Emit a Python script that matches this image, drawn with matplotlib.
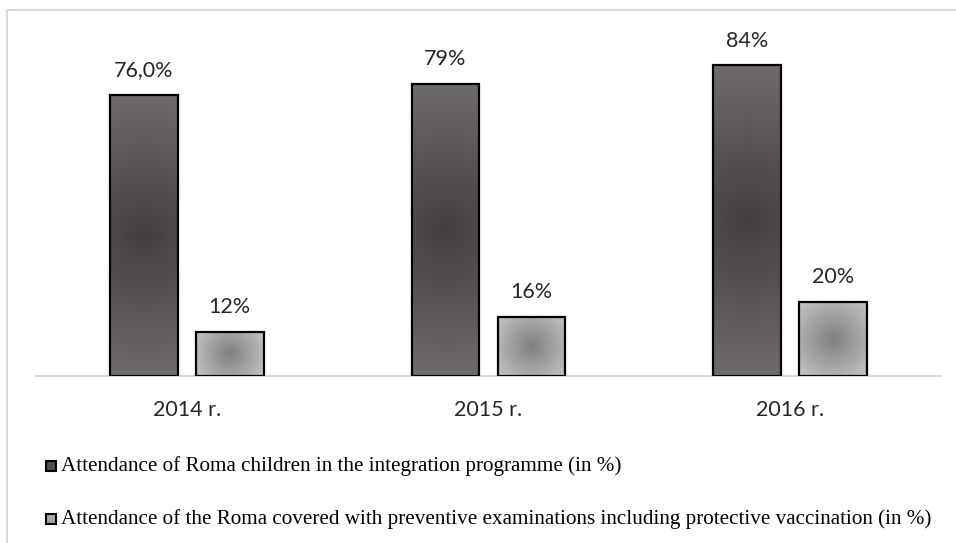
import numpy as np
import matplotlib.pyplot as plt
from matplotlib.patches import Rectangle
from matplotlib.lines import Line2D

years = ['2014 r.', '2015 r.', '2016 r.']
attendance = [76.0, 79, 84]
vaccination = [12, 16, 20]
attendance_labels = ['76,0%', '79%', '84%']
vaccination_labels = ['12%', '16%', '20%']
series_names = [
    'Attendance of Roma children in the integration programme (in %)',
    'Attendance of the Roma covered with preventive examinations including protective vaccination (in %)',
]

W, H = 956, 543
fig = plt.figure(figsize=(W / 100, H / 100), dpi=100)
fig.patch.set_facecolor('white')


def px(x, y):
    # pixel coords (from top-left) -> figure fraction
    return x / W, 1 - y / H


left, top = px(36, 24.5)
right, bottom = px(941, 376)
ax = fig.add_axes([left, bottom, right - left, top - bottom])
XLIM, YLIM = (-0.5, 2.5), (0, 95)
ax.set_xlim(*XLIM)
ax.set_ylim(*YLIM)
for s in ['top', 'right', 'left']:
    ax.spines[s].set_visible(False)
ax.spines['bottom'].set_color('#d9d9d9')
ax.spines['bottom'].set_linewidth(1.5)
ax.set_yticks([])
ax.set_xticks(range(len(years)))
ax.set_xticklabels(years, fontsize=15.5, family='Lato', color='#262626')
ax.tick_params(axis='x', length=0, pad=17)

# pixels per data unit, so the radial fill stays circular
sx = (right - left) * W / (XLIM[1] - XLIM[0])
sy = (top - bottom) * H / (YLIM[1] - YLIM[0])


def gradient_bars(xs, heights, width, c_mid, c_edge):
    c_mid = np.array(c_mid) / 255
    c_edge = np.array(c_edge) / 255
    bars = ax.bar(xs, heights, width, color='none', edgecolor='black', linewidth=1.6, zorder=3)
    for b in bars:
        x0, y0 = b.get_x(), b.get_y()
        wpx, hpx = b.get_width() * sx, b.get_height() * sy
        ny, nx = int(hpx) + 2, int(wpx) + 2
        gy, gx = np.mgrid[-hpx / 2:hpx / 2:ny * 1j, -wpx / 2:wpx / 2:nx * 1j]
        r = np.sqrt(gx ** 2 + gy ** 2) / np.hypot(wpx / 2, hpx / 2)
        img = c_mid + (c_edge - c_mid) * np.clip(r, 0, 1)[..., None]
        im = ax.imshow(img, extent=[x0, x0 + b.get_width(), y0, y0 + b.get_height()],
                       aspect='auto', zorder=2, interpolation='bilinear')
        im.set_clip_path(b)
    return bars


x = np.arange(len(years))
bw = 0.225
off = 0.1425
b1 = gradient_bars(x - off, attendance, bw, (66, 63, 62), (112, 108, 107))
b2 = gradient_bars(x + off, vaccination, bw, (128, 128, 128), (196, 196, 196))
ax.set_xlim(*XLIM)
ax.set_ylim(*YLIM)

for bars, labels in [(b1, attendance_labels), (b2, vaccination_labels)]:
    for b, t in zip(bars, labels):
        ax.annotate(t, (b.get_x() + b.get_width() / 2, b.get_height()),
                    xytext=(0, 10.5), textcoords='offset points', ha='center', va='bottom',
                    fontsize=15.5, family='Lato', color='#262626')

# legend drawn by hand
legend_y = [466, 519]
legend_fill = ['#505050', '#a6a6a6']
for yy, name, fc in zip(legend_y, series_names, legend_fill):
    fx, fy = px(46, yy + 5)
    fig.patches.append(Rectangle((fx, fy), 10 / W, 10 / H, transform=fig.transFigure,
                                 facecolor=fc, edgecolor='black', linewidth=1.5))
    tx, ty = px(61, yy)
    fig.text(tx, ty, name, ha='left', va='center', fontsize=15.2,
             family='Liberation Serif', color='black')

# light frame on top and left
fig.lines.append(Line2D([7 / W, 1], [1 - 10 / H, 1 - 10 / H], transform=fig.transFigure,
                        color='#d9d9d9', linewidth=1.5))
fig.lines.append(Line2D([7 / W, 7 / W], [0, 1 - 10 / H], transform=fig.transFigure,
                        color='#d9d9d9', linewidth=1.5))

fig.savefig('out.png', dpi=100)
